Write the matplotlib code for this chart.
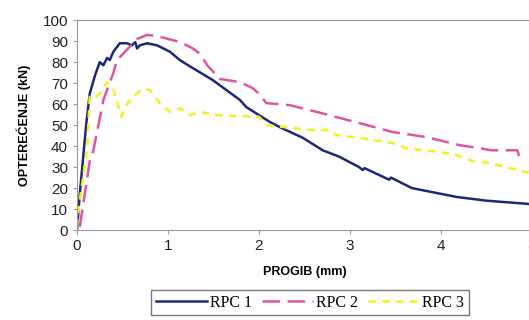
import matplotlib.pyplot as plt

# RPC 1 (solid navy)
x1 = [0, 0.03, 0.1, 0.14, 0.2, 0.25, 0.29, 0.33, 0.36, 0.4, 0.47, 0.55, 0.6, 0.64, 0.66,
      0.69, 0.77, 0.88, 1.02, 1.13, 1.24, 1.49, 1.79, 1.86, 2.12, 2.23, 2.48, 2.7, 2.88,
      3.1, 3.14, 3.16, 3.43, 3.45, 3.68, 4.17, 4.5, 4.95, 5.0]
y1 = [0, 17, 50, 65, 74, 80, 78.5, 82, 81, 85, 89, 89, 88, 89.5, 86.5,
      88, 89, 88, 85, 81, 78, 71.5, 62, 58.6, 51.5, 49, 44, 38, 35,
      30, 28.6, 29.5, 24, 25, 20, 15.8, 14, 12.5, 12.3]

# RPC 2 (dashed magenta)
x2 = [0.03, 0.14, 0.18, 0.29, 0.4, 0.44, 0.55, 0.66, 0.77, 0.88, 1.13, 1.27, 1.35, 1.43,
      1.57, 1.79, 1.93, 2.0, 2.08, 2.34, 2.66, 3.1, 3.47, 3.84, 4.2, 4.56, 4.84, 4.86, 4.88]
y2 = [1.5, 33, 38, 62, 75, 81, 86, 91, 93, 92.4, 89.6, 86.6, 84, 78.6,
      72, 70.5, 67.6, 65, 60.5, 59.5, 56, 51, 46.7, 44.3, 40.5, 38, 38, 35, 32]

# RPC 3 (dashed yellow)
x3 = [0, 0.02, 0.11, 0.14, 0.2, 0.25, 0.33, 0.4, 0.49, 0.53, 0.61, 0.73, 0.8, 0.91, 1.02,
      1.13, 1.24, 1.35, 1.53, 2.0, 2.08, 2.59, 2.77, 2.85, 3.1, 3.47, 3.62, 4.01, 4.17,
      4.34, 4.53, 4.93, 5.0]
y3 = [1.5, 11, 38, 63.5, 63, 65, 70.5, 66.7, 54, 58.7, 63.5, 67.5, 66.7, 60.4, 56.3,
      58, 54.8, 56.3, 54.8, 54, 50, 47.6, 47.6, 45.2, 44, 41.4, 39, 37, 35.7,
      33, 31.9, 27.6, 27.3]

labels = ['RPC 1', 'RPC 2', 'RPC 3']
xticks = [0, 1, 2, 3, 4, 5]
yticks = list(range(0, 101, 10))

fig = plt.figure(figsize=(5.29, 3.2), dpi=100)
ax = fig.add_axes([0.1456, 0.281, 0.86, 0.656])

ax.plot(x1, y1, color='#1f2878', lw=1.8, label=labels[0])
ax.plot(x2, y2, color='#e0559f', lw=1.8, dashes=(7, 3), label=labels[1])
ax.plot(x3, y3, color='#f2f21e', lw=1.8, dashes=(3, 2.5), label=labels[2])

ax.set_xlim(0, 5)
ax.set_ylim(0, 100)
ax.set_xticks(xticks)
ax.set_yticks(yticks)
for s in ax.spines.values():
    s.set_color('#9a9a9a')
ax.spines['right'].set_visible(False)
ax.tick_params(colors='#9a9a9a', labelcolor='#222222', labelsize=11, length=3)

ax.set_xlabel('PROGIB (mm)', fontsize=9, fontweight='bold',
              family='Liberation Sans', labelpad=9)
ax.set_ylabel('OPTEREĆENJE (kN)', fontsize=9, fontweight='bold',
              family='Liberation Sans', labelpad=8)
for lbl in ax.get_xticklabels() + ax.get_yticklabels():
    lbl.set_family('Liberation Sans')

leg = ax.legend(loc='upper center', bbox_to_anchor=(0.512, -0.285), ncol=3,
                prop={'family': 'Liberation Serif', 'size': 11.5},
                frameon=True, fancybox=False, handlelength=3.2,
                handletextpad=0.2, columnspacing=0.6, borderpad=0.3,
                borderaxespad=0)
leg.get_frame().set_edgecolor('#555555')
leg.get_frame().set_linewidth(1.0)

fig.savefig('out.png', dpi=100)
